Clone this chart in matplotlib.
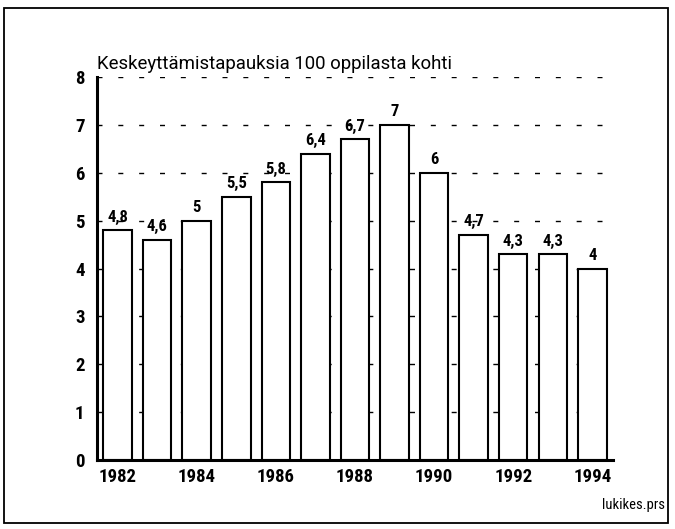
import matplotlib
matplotlib.use("Agg")
import matplotlib.pyplot as plt
from matplotlib.patches import Rectangle

# data
years = [1982, 1983, 1984, 1985, 1986, 1987, 1988, 1989, 1990, 1991, 1992, 1993, 1994]
values = [4.8, 4.6, 5.0, 5.5, 5.8, 6.4, 6.7, 7.0, 6.0, 4.7, 4.3, 4.3, 4.0]
value_labels = ["4,8", "4,6", "5", "5,5", "5,8", "6,4", "6,7", "7", "6", "4,7", "4,3", "4,3", "4"]
xtick_years = [1982, 1984, 1986, 1988, 1990, 1992, 1994]
yticks = [0, 1, 2, 3, 4, 5, 6, 7, 8]

plt.rcParams["font.family"] = ["Roboto Condensed", "DejaVu Sans"]

fig = plt.figure(figsize=(6.75, 5.29), dpi=100)
ax = fig.add_axes([0.1437, 0.1304, 0.908 - 0.1437, 0.8544 - 0.1304])

# kehys koko kuvan ympäri
fig.patches.append(Rectangle((0.006, 0.012), 0.984, 0.973, transform=fig.transFigure,
                             fill=False, edgecolor="black", linewidth=1.3))

ax.bar(years, values, width=0.72, color="white", edgecolor="black", linewidth=1.5, zorder=3)
for x, v, lab in zip(years, values, value_labels):
    ax.text(x, v + 0.18, lab, ha="center", va="baseline", fontsize=12, fontweight="bold", zorder=4)

for y in yticks[1:]:
    ax.axhline(y, color="black", linewidth=1.0, linestyle=(0, (3.6, 11.4)), zorder=1)

ax.set_xlim(1981.48, 1994.52)
ax.set_ylim(0, 8)
ax.set_xticks(xtick_years)
ax.set_yticks(yticks)
ax.tick_params(axis="x", length=0, pad=6, labelsize=13.5)
ax.tick_params(axis="y", length=0, pad=9, labelsize=13.5)
for t in ax.get_xticklabels() + ax.get_yticklabels():
    t.set_fontweight("bold")

for s in ("top", "right"):
    ax.spines[s].set_visible(False)
ax.spines["left"].set_linewidth(2.2)
ax.spines["bottom"].set_linewidth(2.2)
ax.spines["left"].set_zorder(5)
ax.spines["bottom"].set_zorder(5)

fig.text(0.1437, 0.862, "Keskeyttämistapauksia 100 oppilasta kohti", fontsize=13.4,
         ha="left", va="bottom", family=["Roboto", "DejaVu Sans"])
fig.text(0.985, 0.033, "lukikes.prs", fontsize=10.5, ha="right", va="bottom")

fig.savefig("out.png", dpi=100)
